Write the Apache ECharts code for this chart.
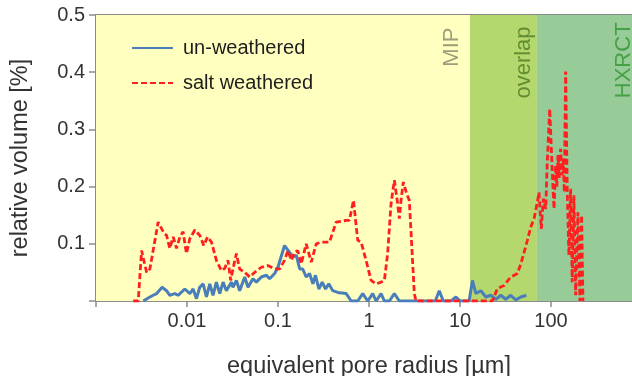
<!DOCTYPE html>
<html>
<head>
<meta charset="utf-8">
<script src="https://cdn.jsdelivr.net/npm/echarts@6/dist/echarts.min.js"></script>
<style>
html,body{margin:0;padding:0;background:#fff;}
#chart{width:632px;height:376px;}
</style>
</head>
<body>
<div id="chart"></div>
<script>
// ---- data ----
const seriesNames = ['un-weathered', 'salt weathered'];

const unRadius = [0.00331,0.00391,0.00425,0.00464,0.00533,0.00596,0.00647,0.00735,0.00798,0.00946,
  0.01074,0.01167,0.01271,0.0138,0.01503,0.01637,0.01778,0.01932,0.02104,0.0229,
  0.0249,0.0271,0.0308,0.032,0.0349,0.0379,0.0431,0.0468,0.0531,0.0578,
  0.0656,0.0745,0.0809,0.0918,0.0998,0.118,0.134,0.146,0.159,0.173,
  0.187,0.204,0.222,0.242,0.258,0.281,0.306,0.333,0.361,0.4,
  0.454,0.561,0.637,0.752,0.853,0.968,1.099,1.197,1.358,1.476,
  1.675,1.9,2.153,5.35,5.92,6.55,8.0,9.02,10.05,12.6,
  13.7,14.95,16.95,19.2,21.8,24.8,28.1,31.8,36.1,41.0,
  46.6,53.6];
const unVolume = [0,0.007,0.01,0.013,0.024,0.018,0.01,0.013,0.01,0.021,
  0.013,0.021,0.004,0.024,0.03,0.007,0.03,0.01,0.033,0.013,
  0.033,0.018,0.033,0.024,0.036,0.018,0.042,0.024,0.039,0.033,
  0.042,0.045,0.039,0.048,0.059,0.097,0.085,0.077,0.08,0.056,
  0.056,0.042,0.048,0.03,0.045,0.021,0.033,0.021,0.03,0.018,
  0.015,0.013,0,0,0.013,0,0.013,0,0.013,0,
  0,0.013,0,0,0.018,0,0,0.007,0,0,
  0.036,0.013,0.018,0.007,0.01,0.003,0.01,0.003,0.01,0.002,
  0.007,0.01];

const saltRadius = [0.00256,0.00291,0.00317,0.0036,0.00391,0.00482,0.00561,0.00596,0.00647,0.00705,
  0.00767,0.00834,0.00906,0.00986,0.01074,0.01219,0.0138,0.01528,0.01679,0.01858,
  0.02104,0.02388,0.02594,0.02825,0.0302,0.032,0.0349,0.0379,0.0431,0.0489,
  0.0553,0.0656,0.0774,0.0918,0.1042,0.118,0.1285,0.14,0.152,0.165,
  0.18,0.204,0.232,0.263,0.299,0.368,0.436,0.561,0.61,0.675,
  0.752,0.819,0.929,1.054,1.197,1.358,1.476,1.603,1.746,1.9,
  2.065,2.153,2.249,2.382,2.588,2.773,2.891,3.148,3.281,22.7,
  25.8,30.5,36.1,42.7,46.6,50.6,55.0,59.8,65.2,70.8,
  73.8,78.3,82.4,87.5,91.0,96.8,103.3,107.9,112.5,116,
  119.3,123,127.6,132,136.4,140,144.9,150.7,157.4,164.4,
  171,178.6,186.6,197.7,208,216.8,224.4];
const saltVolume = [0,0,0.088,0.05,0.056,0.138,0.118,0.115,0.092,0.112,
  0.092,0.112,0.121,0.083,0.109,0.124,0.115,0.097,0.112,0.103,
  0.071,0.053,0.057,0.071,0.036,0.056,0.083,0.056,0.05,0.042,
  0.05,0.059,0.062,0.056,0.056,0.071,0.088,0.071,0.085,0.088,
  0.065,0.1,0.068,0.1,0.103,0.103,0.138,0.141,0.141,0.176,
  0.106,0.103,0.071,0.036,0.03,0.033,0.036,0.083,0.17,0.211,
  0.17,0.144,0.176,0.208,0.188,0.176,0.173,0.013,0,0,
  0.022,0.027,0.042,0.048,0.065,0.085,0.106,0.129,0.144,0.173,
  0.19,0.126,0.179,0.161,0.243,0.336,0.225,0.161,0.237,0.2,
  0.255,0.215,0.266,0.22,0.249,0.19,0.401,0.196,0.08,0.196,
  0.033,0.185,0.01,0.155,0,0.15,0];

// measurement ranges (equivalent pore radius, µm)
const bandNames = ['MIP', 'overlap', 'HXRCT'];
const bandStart = [0.001, 12.9, 70];
const bandEnd = [12.9, 70, 1000];
// tick labels for decades 0.001 ... 1000
const xTickLabels = ['', '0.01', '0.1', '1', '10', '100', ''];
const yTickLabels = ['', '0.1', '0.2', '0.3', '0.4', '0.5'];

// ---- styling / layout (not data) ----
const bandColors = ['#ffffbf', '#b4d86d', '#97cb97'];
const bandTextColors = ['#86866c', '#4d7c22', '#2f962f'];
const bandLabelAnchor = [[8.2, 0.478], [50.6, 0.48], [630, 0.487]];
const FONT = '"Liberation Sans", Arial, sans-serif';
const axisGrey = '#8c8c8c';

const pairs = (xs, ys) => xs.map((x, i) => [x, ys[i]]);

const chart = echarts.init(document.getElementById('chart'), null, {renderer: 'canvas'});
chart.setOption({
  animation: false,
  textStyle: {fontFamily: FONT},
  grid: {left: 96, top: 15, right: -10, bottom: 75, show: true,
         outerBoundsMode: 'none', containLabel: false,
         borderColor: axisGrey, borderWidth: 2, backgroundColor: 'transparent'},
  legend: {
    left: 131, top: 38, padding: 0, orient: 'vertical',
    itemWidth: 41, itemHeight: 14, itemGap: 15,
    data: seriesNames,
    itemStyle: {color: 'rgba(0,0,0,0)', borderColor: 'rgba(0,0,0,0)', borderWidth: 0},
    textStyle: {fontFamily: FONT, fontSize: 20, color: '#1e1e1e', padding: [0, 0, 0, 5]}
  },
  xAxis: {
    type: 'log', logBase: 10, min: 0.001, max: 1000,
    axisLine: {show: true, lineStyle: {color: axisGrey, width: 2}},
    axisTick: {show: true, length: 6, lineStyle: {color: axisGrey, width: 1.5}},
    minorTick: {show: false},
    splitLine: {show: false},
    axisLabel: {
      fontFamily: FONT, fontSize: 20, color: '#333', margin: 10,
      formatter: v => xTickLabels[Math.round(Math.log10(v)) + 3] || ''
    },
    name: 'equivalent pore radius [µm]', nameLocation: 'middle', nameGap: 54,
    nameTextStyle: {fontFamily: FONT, fontSize: 23.5, color: '#333'}
  },
  yAxis: {
    type: 'value', min: 0, max: 0.5, interval: 0.1,
    axisLine: {show: true, lineStyle: {color: axisGrey, width: 2}},
    axisTick: {show: true, length: 7, lineStyle: {color: axisGrey, width: 1.5}},
    splitLine: {show: false},
    axisLabel: {
      fontFamily: FONT, fontSize: 20, color: '#333', margin: 11,
      formatter: v => yTickLabels[Math.round(v * 10)] || ''
    },
    name: 'relative volume [%]', nameLocation: 'middle', nameGap: 63,
    nameTextStyle: {fontFamily: FONT, fontSize: 23.5, color: '#333'}
  },
  series: [
    {
      name: 'bands', type: 'scatter', z: 2, silent: true,
      symbolSize: 1, itemStyle: {color: 'rgba(0,0,0,0)'},
      data: bandNames.map((n, i) => ({name: n, value: bandLabelAnchor[i],
        label: {color: bandTextColors[i]}})),
      label: {
        show: true, position: 'inside', rotate: 90, align: 'right', verticalAlign: 'middle',
        fontFamily: FONT, fontSize: 22, formatter: p => p.name
      },
      markArea: {
        silent: true, z: 1,
        data: bandNames.map((n, i) => [
          {xAxis: bandStart[i], itemStyle: {color: bandColors[i], opacity: 1}},
          {xAxis: bandEnd[i]}
        ])
      }
    },
    {
      name: seriesNames[0], type: 'line', z: 3, symbol: 'none', showSymbol: false,
      data: pairs(unRadius, unVolume),
      itemStyle: {color: '#4a7ebb'},
      lineStyle: {color: '#4a7ebb', width: 3}
    },
    {
      name: seriesNames[1], type: 'line', z: 4, symbol: 'none', showSymbol: false,
      data: pairs(saltRadius, saltVolume),
      itemStyle: {color: '#ff1f1f'},
      lineStyle: {color: '#ff1f1f', width: 2.8, type: [6, 3]}
    }
  ]
});
</script>
</body>
</html>
